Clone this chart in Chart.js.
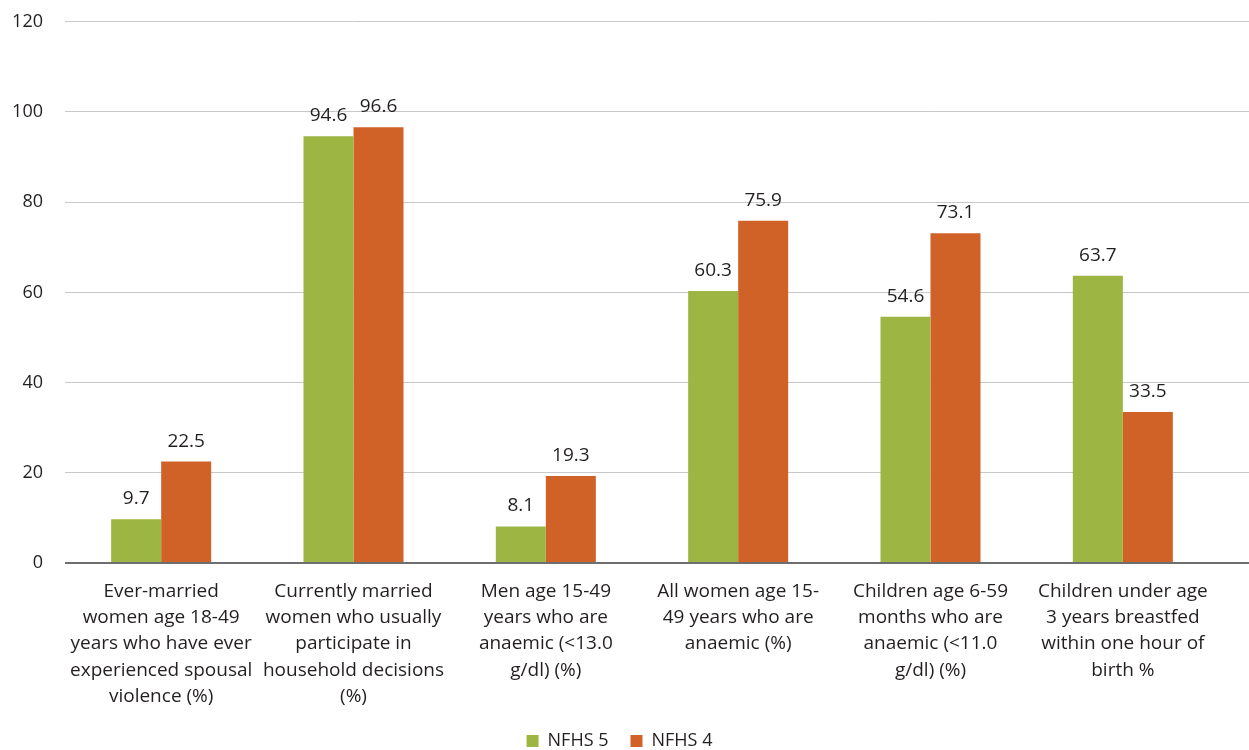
<!DOCTYPE html>
<html>
<head>
<meta charset="utf-8">
<script src="https://cdn.jsdelivr.net/npm/chart.js@4.4.1/dist/chart.umd.min.js"></script>
<style>
  html, body { margin: 0; padding: 0; background: #fff; }
  #wrap { width: 1249px; height: 750px; }
</style>
</head>
<body>
<div id="wrap"><canvas id="chart"></canvas></div>
<script>
// Datos del grafico
const categories = [
  ['Ever-married', 'women age 18-49', 'years who have ever', 'experienced spousal', 'violence (%)'],
  ['Currently married', 'women who usually', 'participate in', 'household decisions', '(%)'],
  ['Men age 15-49', 'years who are', 'anaemic (<13.0', 'g/dl) (%)'],
  ['All women age 15-', '49 years who are', 'anaemic (%)'],
  ['Children age 6-59', 'months who are', 'anaemic (<11.0', 'g/dl) (%)'],
  ['Children under age', '3 years breastfed', 'within one hour of', 'birth %']
];
const nfhs5 = [9.7, 94.6, 8.1, 60.3, 54.6, 63.7];
const nfhs4 = [22.5, 96.6, 19.3, 75.9, 73.1, 33.5];
const yTicks = [0, 20, 40, 60, 80, 100, 120];

const FONT = "'Open Sans', 'Noto Sans', sans-serif";
const TEXT = '#231f20';
const GRID = '#c8c8c8';
const AXIS = '#6d6e70';
const LEGEND_PAD = 22;

// etiquetas de valor encima de cada barra
const valueLabels = {
  id: 'valueLabels',
  afterDatasetsDraw(chart) {
    const ctx = chart.ctx;
    ctx.save();
    ctx.font = `19px ${FONT}`;
    ctx.fillStyle = TEXT;
    ctx.textAlign = 'center';
    ctx.textBaseline = 'alphabetic';
    chart.data.datasets.forEach((ds, i) => {
      chart.getDatasetMeta(i).data.forEach((bar, j) => {
        ctx.fillText(ds.data[j].toFixed(1), bar.x, bar.y - 15);
      });
    });
    ctx.restore();
  }
};

// las lineas de la rejilla siguen hasta el borde derecho
const gridExtend = {
  id: 'gridExtend',
  beforeDatasetsDraw(chart) {
    const { ctx, chartArea, scales } = chart;
    ctx.save();
    yTicks.forEach(v => {
      const w = v === 0 ? 2 : 1;
      const raw = scales.y.getPixelForValue(v);
      const y = Math.round(raw - w / 2) + w / 2;
      ctx.strokeStyle = v === 0 ? AXIS : GRID;
      ctx.lineWidth = w;
      ctx.beginPath();
      ctx.moveTo(chartArea.right - 1, y);
      ctx.lineTo(chart.width, y);
      ctx.stroke();
    });
    ctx.restore();
  }
};

new Chart(document.getElementById('chart'), {
  type: 'bar',
  data: {
    labels: categories,
    datasets: [
      { label: 'NFHS 5', data: nfhs5, backgroundColor: '#9db542' },
      { label: 'NFHS 4', data: nfhs4, backgroundColor: '#d06228' }
    ]
  },
  options: {
    responsive: true,
    maintainAspectRatio: false,
    animation: false,
    layout: { padding: { top: 0, right: 10, left: 0, bottom: -10 } },
    datasets: {
      bar: { categoryPercentage: 0.52, barPercentage: 1.0 }
    },
    scales: {
      x: {
        grid: { display: false },
        border: { display: false },
        ticks: {
          color: TEXT,
          font: { family: FONT, size: 19, lineHeight: 1.37 },
          padding: 8,
          maxRotation: 0,
          autoSkip: false
        },
        // alto fijo para que el area del grafico termine en y=563
        afterFit(scale) { scale.height = 760 - 28 - LEGEND_PAD - 563; }
      },
      y: {
        min: 0,
        max: 120,
        afterBuildTicks(scale) { scale.ticks = yTicks.map(v => ({ value: v })); },
        grid: {
          tickLength: 11,
          tickColor: 'rgba(0,0,0,0)',
          color: ctx => ctx.tick.value === 0 ? AXIS : GRID,
          lineWidth: ctx => ctx.tick.value === 0 ? 2 : 1
        },
        border: { display: false },
        ticks: {
          color: TEXT,
          font: { family: FONT, size: 18 },
          padding: 11
        },
        afterFit(scale) { scale.width = 65; }
      },
      // eje vacio a la derecha, solo reserva espacio
      yRight: {
        position: 'right',
        grid: { display: false },
        border: { display: false },
        ticks: { display: false },
        afterFit(scale) { scale.width = 20; }
      }
    },
    plugins: {
      legend: {
        position: 'bottom',
        labels: {
          color: TEXT,
          font: { family: FONT, size: 18 },
          boxWidth: 12,
          boxHeight: 12,
          padding: LEGEND_PAD
        }
      },
      tooltip: { enabled: false }
    }
  },
  plugins: [valueLabels, gridExtend]
});
</script>
</body>
</html>
